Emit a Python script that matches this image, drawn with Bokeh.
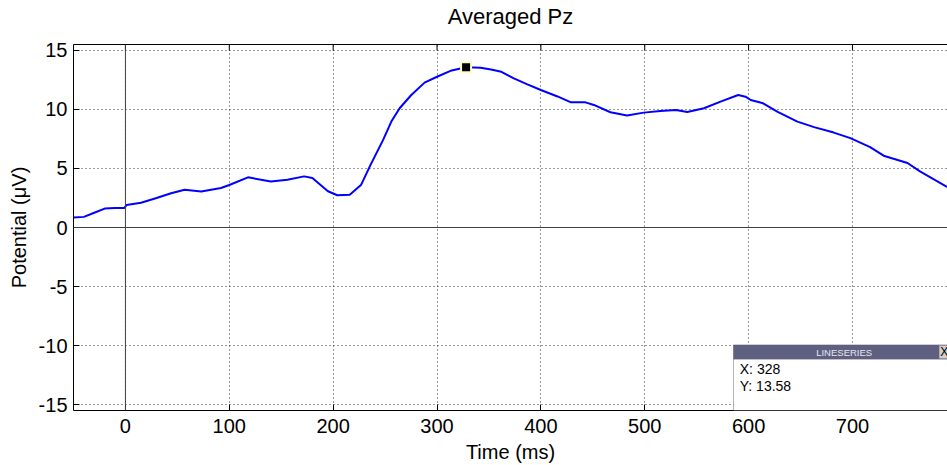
from bokeh.plotting import figure
from bokeh.models import Range1d, LinearAxis, Span, BoxAnnotation, Label, FixedTicker
from bokeh.embed import file_html
from bokeh.resources import INLINE

# ---- data ----
time_ms = [-50, -40, -30, -20, -10, -1, 1, 15, 30, 44, 57, 73, 92, 100, 118, 140, 156,
           172, 180, 195, 204, 216, 227, 236, 248, 256, 264, 275, 288, 300, 313, 328,
           342, 352, 362, 374, 387, 400, 416, 429, 443, 451, 467, 483, 499, 515, 530,
           541, 557, 573, 590, 597, 602, 614, 628, 647, 663, 682, 698, 717, 730, 753,
           765, 791]
potential_uv = [0.85, 0.9, 1.25, 1.6, 1.65, 1.65, 1.9, 2.1, 2.5, 2.9, 3.2, 3.05, 3.35,
                3.6, 4.25, 3.9, 4.05, 4.33, 4.2, 3.07, 2.73, 2.78, 3.63, 5.3, 7.4, 8.97,
                10.1, 11.2, 12.27, 12.77, 13.27, 13.58, 13.53, 13.39, 13.19, 12.63, 12.12,
                11.65, 11.1, 10.6, 10.6, 10.38, 9.76, 9.48, 9.73, 9.87, 9.96, 9.79, 10.1,
                10.66, 11.22, 11.08, 10.8, 10.52, 9.8, 8.97, 8.5, 8.04, 7.57, 6.81, 6.08,
                5.46, 4.75, 3.43]
peak_x = [328]
peak_y = [13.58]
x_ticks = [0, 100, 200, 300, 400, 500, 600, 700]
y_ticks = [-15, -10, -5, 0, 5, 10, 15]
title_text = "Averaged Pz"

FONT = "Liberation Sans"
Y0, Y1 = -15.5, 15.5

p = figure(width=947, height=465, output_backend="svg", toolbar_location=None,
           x_range=Range1d(-50, 791.5), y_range=Range1d(Y0, Y1),
           x_axis_label="Time (ms)", y_axis_label="Potential (\u03bcV)",
           min_border_left=73, min_border_right=0, min_border_top=44,
           min_border_bottom=54)
p.outline_line_color = None
p.background_fill_color = "white"
p.border_fill_color = "white"

for ax in (p.xaxis[0], p.yaxis[0]):
    ax.axis_line_color = "black"
    ax.major_tick_in = 6
    ax.major_tick_out = 0
    ax.minor_tick_line_color = None
    ax.major_label_text_font = FONT
    ax.major_label_text_font_size = "20px"
    ax.major_label_text_color = "black"
    ax.axis_label_text_font = FONT
    ax.axis_label_text_font_size = "20px"
    ax.axis_label_text_font_style = "normal"
    ax.axis_label_text_color = "black"
p.xaxis[0].ticker = FixedTicker(ticks=x_ticks)
p.yaxis[0].ticker = FixedTicker(ticks=y_ticks)
p.xaxis[0].major_label_overrides = {t: str(t) for t in x_ticks}
p.yaxis[0].major_label_overrides = {t: str(t) for t in y_ticks}
p.xaxis[0].major_label_standoff = 8
p.xaxis[0].axis_label_standoff = 5
p.yaxis[0].major_label_standoff = 6
p.yaxis[0].axis_label_standoff = 6

# top border of the box (MATLAB "box on"), carrying the title as its label
top = LinearAxis(ticker=FixedTicker(ticks=[]), major_tick_in=0, major_tick_out=0,
                 minor_tick_line_color=None, axis_line_color="black",
                 major_label_standoff=0, axis_label=title_text,
                 axis_label_text_font=FONT, axis_label_text_font_size="22px",
                 axis_label_text_font_style="normal", axis_label_text_color="black",
                 axis_label_standoff=16)
p.add_layout(top, "above")
# small inward ticks on the top border
p.segment(x0=x_ticks, y0=[Y1] * len(x_ticks), x1=x_ticks,
          y1=[Y1 - 0.5] * len(x_ticks), line_color="black", line_width=1)

p.xgrid.ticker = FixedTicker(ticks=x_ticks)
p.ygrid.ticker = FixedTicker(ticks=y_ticks)
for g in (p.xgrid[0], p.ygrid[0]):
    g.grid_line_color = "#333333"
    g.grid_line_dash = "1 3"
    g.grid_line_width = 1

p.add_layout(Span(location=0, dimension="height", line_color="#404040", line_width=1))
p.add_layout(Span(location=0, dimension="width", line_color="#404040", line_width=1))

p.line(time_ms, potential_uv, line_color="#0000ff", line_width=2)
p.scatter(peak_x, peak_y, marker="square", size=10, fill_color="black",
          line_color="#fffcc8", line_width=2)

# data tip box
p.add_layout(BoxAnnotation(left=585.5, right=800, top=-9.96, bottom=Y0,
                           fill_color="white", fill_alpha=1, line_color="black",
                           line_width=1, level="overlay"))
p.add_layout(BoxAnnotation(left=585.5, right=800, top=-9.96, bottom=-11.15,
                           fill_color="#5f5f80", fill_alpha=1, line_color="#5f5f80",
                           line_width=1, level="overlay"))
p.add_layout(BoxAnnotation(left=783.5, right=800, top=-10.0, bottom=-11.1,
                           fill_color="#d4d0c8", fill_alpha=1, line_color="#808080",
                           line_width=1, level="overlay"))
p.add_layout(Label(x=692, y=-10.55, text="LINESERIES", text_font=FONT,
                   text_font_size="9.5px", text_color="#e8e8f0", text_align="center",
                   text_baseline="middle", level="overlay"))
p.add_layout(Label(x=784.5, y=-10.55, text="X", text_font=FONT,
                   text_font_size="12px", text_color="black", text_align="left",
                   text_baseline="middle", level="overlay"))
p.add_layout(Label(x=591.5, y=-11.95, text=f"X: {peak_x[0]}", text_font=FONT,
                   text_font_size="14px", text_color="black", text_align="left",
                   text_baseline="middle", level="overlay"))
p.add_layout(Label(x=591.5, y=-13.4, text=f"Y: {peak_y[0]:.2f}", text_font=FONT,
                   text_font_size="14px", text_color="black", text_align="left",
                   text_baseline="middle", level="overlay"))

open("out.html", "w").write(file_html(p, INLINE))
